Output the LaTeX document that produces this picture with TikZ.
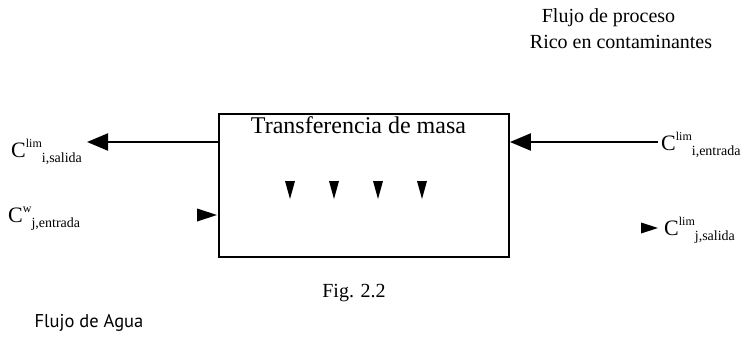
\documentclass[tikz,border=0pt]{standalone}
\usepackage{fontspec}
\setmainfont{Liberation Serif}
\newfontfamily\aguafont{PT Sans}
\usetikzlibrary{arrows.meta}
\newcommand\mysup[1]{\raisebox{10pt}{\fontsize{12}{12}\selectfont #1}}
\newcommand\mysub[1]{\raisebox{-5pt}{\fontsize{14}{14}\selectfont #1}}
\begin{document}
\begin{tikzpicture}[x=1pt,y=-1pt,
  boxst/.style={draw, line width=1.8pt, minimum width=290pt, minimum height=143pt, inner sep=0pt},
  flowarrow/.style={line width=2.2pt, -{Triangle[length=21pt,width=17pt]}},
  clab/.style={inner sep=0pt, anchor=base west, font=\fontsize{22}{22}\selectfont},
  txt/.style={inner sep=0pt, font=\fontsize{20}{20}\selectfont},
  headonly/.style={fill=black}]
\useasboundingbox (0,0) rectangle (749,337);
% texts at top right
\node[txt] (fp) at (608.5,18) {Flujo de proceso};
\node[txt] (rc) at (621,42) {Rico en contaminantes};
% main box
\node[boxst] (box) at (364,185.5) {};
\node[inner sep=0pt, font=\fontsize{24}{24}\selectfont] (title) at (358.5,125) {Transferencia de masa};
% down triangles
\foreach \x in {290,334,378,422}{
  \fill (\x-5,181) -- (\x+5,181) -- (\x,199) -- cycle;
}
% labels
\node[clab] (lout) at (11,157) {C\mysup{lim}\mysub{i,salida}};
\node[clab] (win) at (8,222) {C\mysup{w}\mysub{j,entrada}};
\node[clab] (rin) at (661,150) {C\mysup{lim}\mysub{i,entrada}};
\node[clab] (wout) at (664,235) {C\mysup{lim}\mysub{j,salida}};
% connectors
\coordinate (lend) at (87,142);
\coordinate (rstart) at (658,142);
\draw[flowarrow] (lend -| box.west) -- (lend);
\draw[flowarrow] (rstart) -- (rstart -| box.east);
% lone arrow heads
\coordinate (wtip) at (217,215);
\fill[headonly] (wtip) -- ++(-20,-6.5) -- ++(0,13) -- cycle;
\coordinate (otip) at (658,228);
\fill[headonly] (otip) -- ++(-17,-5.5) -- ++(0,11) -- cycle;
% bottom texts
\node[txt] (fig) at (354,293) {Fig. 2.2};
\node[inner sep=0pt, font=\aguafont\fontsize{18.5}{18.5}\selectfont] (agua) at (89,323) {Flujo de Agua};
\end{tikzpicture}
\end{document}
